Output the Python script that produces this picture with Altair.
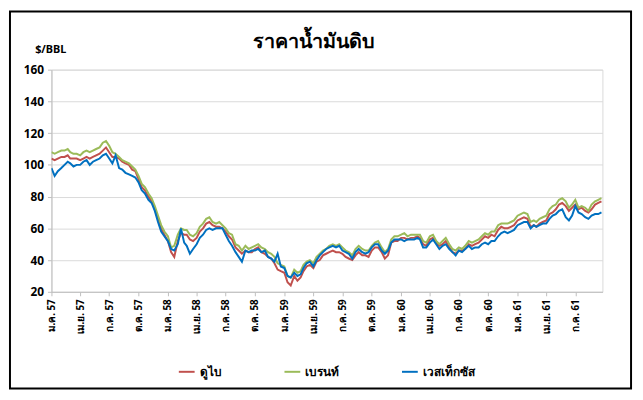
import json
import altair as alt
import pandas as pd

# ---------------- data ----------------
chart_title = "ราคาน้ำมันดิบ"
series_names = ["ดูไบ", "เบรนท์", "เวสเท็กซัส"]
series_colors = ["#C0504D", "#9BBB59", "#0070C0"]
month_labels = ["ม.ค.", "", "", "เม.ย.", "", "", "ก.ค.", "", "", "ต.ค.", "", ""]
y_ticks = [20, 40, 60, 80, 100, 120, 140, 160]
sample_days = [1, 11, 21]

dubai = [
    104, 103, 104, 105, 105, 106, 104, 104, 104, 103, 104, 105, 104, 105, 106, 107, 109, 111,
    108, 105, 105, 104, 102, 101, 100, 97, 96, 91, 86, 84, 80, 77, 72, 66, 60, 56,
    52, 45, 42, 52, 57, 56, 56, 53, 52, 54, 58, 60, 63, 64, 62, 61, 61, 60,
    58, 55, 53, 48, 46, 44, 46, 45, 45, 47, 48, 45, 44, 42, 41, 38, 34, 33,
    32, 26, 24, 30, 27, 29, 33, 36, 37, 35, 39, 40, 43, 44, 45, 46, 45, 45,
    44, 42, 41, 40, 43, 45, 43, 43, 42, 46, 48, 48, 45, 41, 43, 51, 52, 52,
    54, 54, 53, 54, 54, 55, 54, 50, 49, 53, 54, 51, 49, 50, 52, 48, 45, 44,
    46, 46, 47, 50, 49, 50, 51, 53, 55, 54, 56, 55, 59, 61, 60, 60, 61, 62,
    65, 66, 67, 66, 61, 62, 61, 63, 64, 65, 69, 70, 72, 75, 76, 74, 71, 73,
    75, 72, 73, 71, 70, 72, 75, 76, 77,
]
brent = [
    108, 107, 108, 109, 109, 110, 108, 107, 107, 106, 108, 109, 108, 109, 110, 111, 114, 115,
    112, 108, 107, 105, 103, 102, 101, 99, 97, 93, 88, 86, 82, 79, 74, 68, 62, 58,
    55, 48, 49, 56, 60, 59, 59, 56, 55, 57, 61, 63, 66, 67, 64, 63, 64, 62,
    60, 57, 56, 50, 49, 46, 49, 47, 48, 49, 50, 48, 47, 45, 44, 42, 38, 37,
    36, 30, 29, 34, 32, 33, 37, 39, 40, 38, 42, 44, 46, 47, 49, 50, 49, 50,
    48, 46, 45, 43, 47, 49, 47, 46, 46, 49, 51, 52, 48, 45, 47, 53, 55, 55,
    56, 57, 55, 56, 56, 56, 56, 52, 51, 55, 56, 52, 50, 52, 54, 50, 47, 46,
    48, 47, 49, 52, 51, 52, 53, 55, 57, 56, 58, 58, 62, 63, 63, 63, 64, 65,
    68, 69, 70, 69, 64, 65, 64, 66, 67, 68, 72, 74, 75, 78, 79, 77, 73, 75,
    78, 73, 74, 73, 71, 75, 77, 78, 79,
]
wti = [
    98, 93, 96, 98, 100, 102, 101, 99, 100, 100, 102, 103, 100, 102, 103, 104, 106, 107,
    104, 101, 106, 98, 97, 95, 94, 93, 92, 89, 84, 82, 78, 76, 71, 64, 58, 55,
    52, 47, 46, 50, 60, 51, 49, 44, 47, 50, 54, 56, 59, 60, 59, 60, 60, 60,
    56, 52, 49, 45, 42, 39, 46, 45, 46, 46, 47, 45, 46, 42, 41, 39, 44, 36,
    35, 30, 29, 32, 30, 31, 35, 38, 39, 36, 40, 43, 45, 47, 48, 49, 48, 49,
    46, 45, 44, 41, 45, 47, 45, 44, 45, 48, 50, 50, 46, 44, 46, 51, 53, 53,
    53, 52, 53, 53, 53, 54, 53, 48, 48, 51, 53, 50, 47, 49, 50, 47, 45, 43,
    46, 45, 47, 49, 47, 48, 48, 50, 51, 50, 52, 52, 55, 57, 58, 57, 58, 59,
    62, 63, 64, 64, 60, 62, 61, 62, 63, 63, 66, 68, 69, 71, 72, 67, 65, 68,
    74, 70, 69, 67, 66, 68, 69, 69, 70,
]

dates = []
for yr in range(2014, 2019):
    for mo in range(1, 13):
        if yr == 2018 and mo > 9:
            break
        for d in sample_days:
            dates.append(f"{yr}-{mo:02d}-{d:02d}")

rows = []
for k, (name, vals) in enumerate(zip(series_names, [dubai, brent, wti])):
    for dt, v in zip(dates, vals):
        rows.append({"date": dt, "price": v, "series": name, "k": k})
df = pd.DataFrame(rows)

x_ticks = []
for yr in range(2014, 2019):
    for mo in (1, 4, 7, 10):
        if yr == 2018 and mo > 7:
            break
        x_ticks.append(alt.DateTime(year=yr, month=mo, date=1, utc=True))

FONT = "Noto Sans"
label_expr = (
    json.dumps(month_labels, ensure_ascii=False)
    + "[utcmonth(datum.value)] + ' ' + ((utcyear(datum.value) + 543) % 100)"
)

lines = alt.Chart(df).mark_line(strokeWidth=2, clip=True).encode(
    x=alt.X(
        "date:T",
        scale=alt.Scale(
            type="utc",
            domain=[
                alt.DateTime(year=2014, month=1, date=1, utc=True),
                alt.DateTime(year=2018, month=9, date=24, utc=True),
            ],
        ),
        axis=alt.Axis(
            values=x_ticks,
            labelExpr=label_expr,
            labelAngle=270,
            labelAlign="right",
            labelBaseline="middle",
            labelFontWeight="bold",
            labelFontSize=10,
            labelColor="black",
            labelPadding=3,
            labelOverlap=False,
            labelFlush=False,
            tickSize=4,
            tickColor="#bfbfbf",
            domainColor="#bfbfbf",
            grid=False,
            title=None,
        ),
    ),
    y=alt.Y(
        "price:Q",
        scale=alt.Scale(domain=[20, 160], nice=False, zero=False),
        axis=alt.Axis(
            values=y_ticks,
            labelFontWeight="bold",
            labelFontSize=12,
            labelColor="black",
            labelPadding=4,
            tickSize=4,
            tickColor="#bfbfbf",
            domainColor="#bfbfbf",
            gridColor="#d9d9d9",
            title="$/BBL",
            titleAngle=0,
            titleX=-17,
            titleY=-20,
            titleAlign="left",
            titleBaseline="middle",
            titleFontSize=11,
            titleFontWeight="bold",
            titleColor="black",
        ),
    ),
    color=alt.Color(
        "series:N",
        sort=series_names,
        scale=alt.Scale(domain=series_names, range=series_colors),
        legend=alt.Legend(
            orient="none",
            legendX=128,
            legendY=297,
            direction="horizontal",
            title=None,
            symbolType="stroke",
            symbolSize=256,
            symbolStrokeWidth=2,
            labelFontWeight="bold",
            labelFontSize=12,
            labelColor="black",
            labelLimit=0,
            columnPadding=60,
        ),
    ),
    detail="k:O",
)

single = pd.DataFrame({"t": [chart_title]})

title_mark = alt.Chart(single).mark_text(
    fontSize=20, fontWeight="bold", color="black", align="center", baseline="alphabetic"
).encode(text="t:N", x=alt.value(266), y=alt.value(-22))

frame = alt.Chart(single).mark_rect(
    filled=False, stroke="black", strokeWidth=2
).encode(
    x=alt.value(-42), x2=alt.value(587), y=alt.value(-59), y2=alt.value(323)
)

chart = (
    alt.layer(lines, title_mark, frame)
    .properties(
        width=558,
        height=225,
        padding={"left": 44, "top": 60, "right": 33, "bottom": 99},
        autosize=alt.AutoSizeParams(type="none"),
    )
    .configure(font=FONT)
    .configure_view(stroke="#d9d9d9")
)

chart.save("out.html", embed_options={"renderer": "svg", "actions": False})
